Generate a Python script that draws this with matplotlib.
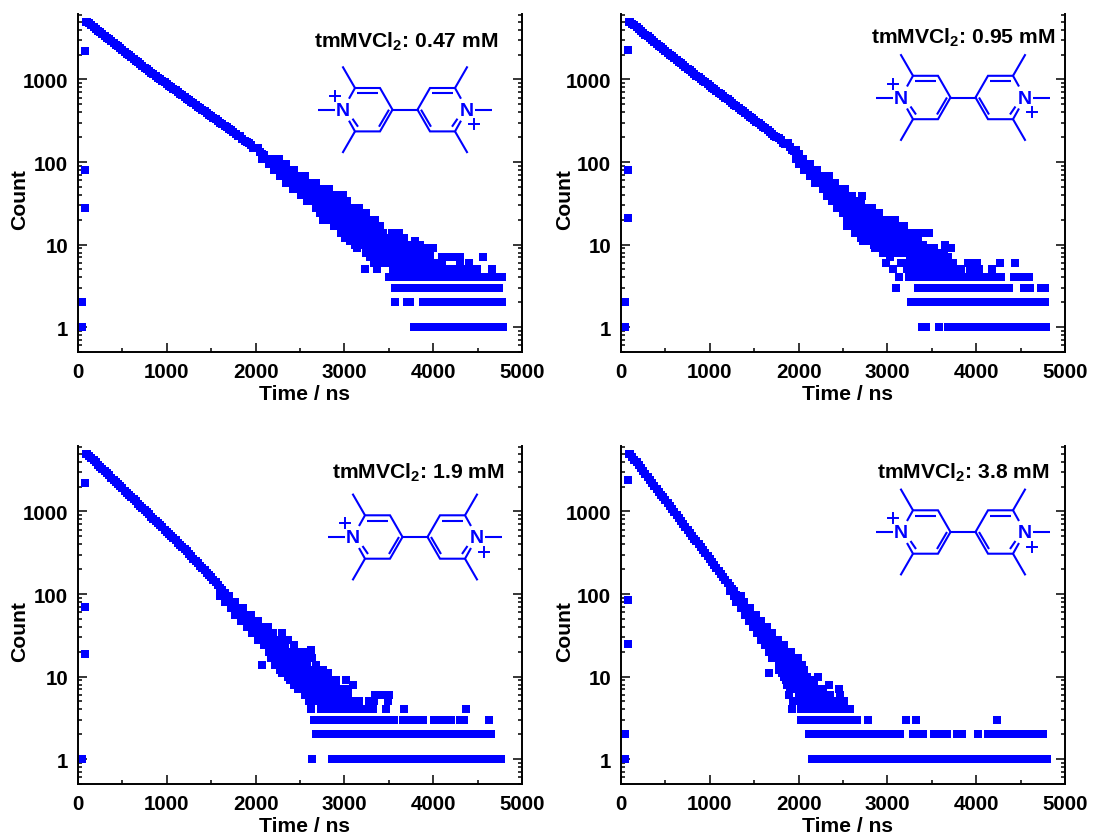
import matplotlib
matplotlib.use("Agg")
import matplotlib.pyplot as plt
from matplotlib.ticker import LogLocator, MultipleLocator, FixedFormatter, FixedLocator, NullFormatter

plt.rcParams["font.family"] = ["Liberation Sans", "DejaVu Sans"]
plt.rcParams["font.weight"] = "bold"
plt.rcParams["mathtext.fontset"] = "custom"
plt.rcParams["mathtext.bf"] = "Liberation Sans:bold"
plt.rcParams["mathtext.rm"] = "Liberation Sans:bold"

BLUE = "#0000ff"
W, H = 1093, 837

# Data

labels = ["tmMVCl$_{\\mathbf{2}}$: 0.47 mM", "tmMVCl$_{\\mathbf{2}}$: 0.95 mM",
          "tmMVCl$_{\\mathbf{2}}$: 1.9 mM", "tmMVCl$_{\\mathbf{2}}$: 3.8 mM"]

main_t = [100, 150, 200, 250, 300, 350, 400, 450, 500, 550, 600, 650, 700, 750, 800, 850, 900, 950, 1000,
          1050, 1100, 1150, 1200, 1250, 1300, 1350, 1400, 1450, 1500, 1550, 1600, 1650, 1700, 1750, 1800,
          1850, 1900, 1950, 2000, 2050, 2100]
mid_t = [125, 175, 225, 275, 325, 375, 425, 475, 525, 575, 625, 675, 725, 775, 825, 875, 925, 975, 1025,
         1075, 1125, 1175, 1225, 1275, 1325, 1375, 1425, 1475, 1525, 1575, 1625, 1675, 1725, 1775, 1825,
         1875, 1925, 1975, 2025, 2075]

p1_main = [5000, 4530, 4100, 3720, 3370, 3050, 2770, 2510, 2270, 2060, 1870, 1690, 1530, 1390, 1260, 1150,
           1050, 960, 880, 805, 735, 670, 615, 560, 515, 470, 430, 392, 360, 328, 300, 275, 250, 228, 208,
           190, 175, 160, 146, 133, 122]
p1_mid = [4760, 4310, 3905, 3540, 3205, 2905, 2635, 2385, 2160, 1960, 1780, 1610, 1460, 1325, 1205, 1100,
          1005, 920, 840, 770, 700, 640, 585, 535, 492, 450, 411, 375, 344, 314, 288, 262, 242, 216, 204,
          178, 172, 148, 146, 124]
p2_main = [5000, 4510, 4070, 3680, 3320, 3000, 2710, 2450, 2210, 2000, 1810, 1640, 1490, 1350, 1225, 1115,
           1015, 920, 835, 760, 690, 630, 572, 520, 472, 430, 391, 355, 323, 294, 267, 243, 221, 201, 183,
           166, 151, 137, 125]
p2_mid = [4750, 4280, 3870, 3500, 3155, 2850, 2575, 2330, 2100, 1905, 1725, 1565, 1420, 1285, 1170, 1065,
          965, 875, 795, 725, 660, 600, 545, 496, 450, 410, 373, 339, 308, 280, 255, 232, 208, 198, 172,
          168, 140, 138]
p3_main = [5000, 4430, 3930, 3480, 3080, 2730, 2420, 2150, 1900, 1680, 1490, 1320, 1170, 1040, 920, 815,
           722, 640, 567, 502, 445, 394, 349, 305, 268, 235, 207, 182, 160, 138, 119, 103]
p3_mid = [4705, 4170, 3700, 3275, 2900, 2570, 2280, 2020, 1785, 1580, 1400, 1245, 1105, 980, 865, 767,
          680, 602, 533, 473, 419, 371, 328, 286, 251, 220, 194, 171, 149, 128, 111]
p4_main = [5000, 4250, 3610, 3060, 2600, 2210, 1880, 1600, 1360, 1150, 980, 830, 705, 600, 510, 433, 368,
           312, 265, 225, 190, 161, 137, 116, 98]
p4_mid = [4610, 3920, 3320, 2820, 2400, 2040, 1735, 1475, 1250, 1060, 900, 765, 650, 553, 470, 399, 339,
          288, 244, 207, 175, 148, 126, 107]

# early points, before the decay starts
p1_early_t = [75, 75, 75, 40, 35, 50, 85]
p1_early_n = [2200, 80, 28, 2, 1, 1, 4900]
p2_early_t = [79, 79, 79, 45, 40, 50, 85]
p2_early_n = [2250, 80, 21, 2, 1, 1, 4900]
p3_early_t = [79, 79, 79, 45, 50, 85]
p3_early_n = [2200, 70, 19, 1, 1, 4900]
p4_early_t = [79, 79, 79, 45, 40, 50, 85]
p4_early_n = [2400, 85, 25, 2, 1, 1, 4900]

# tail: times at which each count is seen
p1_levels = [1, 2, 3, 4, 5, 6, 7, 8, 9, 10, 11, 12, 14, 17, 20, 24, 28, 34, 40, 47, 56, 67, 80, 95, 110]
p1_times = [
    [3780, 3840, 3900, 3960, 4020, 4080, 4140, 4200, 4260, 4320, 4380, 4440, 4500, 4560, 4620, 4680, 4740, 4785],
    [3570, 3700, 3735, 3880, 3940, 4000, 4060, 4120, 4180, 4240, 4300, 4360, 4420, 4480, 4540, 4600, 4660, 4720, 4770],
    [3567, 3630, 3690, 3750, 3810, 3870, 3930, 3990, 4050, 4110, 4170, 4230, 4290, 4350, 4410, 4470, 4530, 4590, 4650, 4700, 4746],
    [3498, 3550, 3610, 3695, 3750, 3810, 3870, 3930, 3990, 4050, 4110, 4170, 4230, 4290, 4350, 4410, 4470, 4530, 4590, 4650, 4710, 4780],
    [3232, 3371, 3550, 3610, 3670, 3730, 3790, 3850, 3910, 3970, 4030, 4090, 4150, 4210, 4270, 4290, 4370, 4420, 4490, 4666],
    [3330, 3390, 3450, 3510, 3570, 3630, 3690, 3750, 3810, 3870, 3930, 3990, 4040, 4100, 4300, 4407],
    [3288, 3350, 3410, 3470, 3530, 3590, 3650, 3710, 3770, 3830, 3890, 3960, 4095, 4130, 4208, 4240, 4306, 4561],
    [3240, 3300, 3360, 3420, 3480, 3540, 3600, 3660, 3720, 3780, 3840, 3900, 3960],
    [3138, 3240, 3300, 3360, 3420, 3480, 3540, 3600, 3660, 3720, 3790, 3945, 4002],
    [3120, 3180, 3240, 3300, 3360, 3420, 3480, 3540, 3600, 3660, 3720, 3795, 3850],
    [3060, 3120, 3180, 3240, 3300, 3360, 3420, 3480, 3540, 3600, 3660, 3795],
    [3010, 3070, 3130, 3190, 3250, 3310, 3370, 3430, 3490, 3550, 3610, 3671],
    [2960, 3020, 3080, 3140, 3200, 3260, 3320, 3380, 3440, 3533, 3619],
    [2880, 2940, 3000, 3060, 3120, 3180, 3240, 3300, 3360, 3400],
    [2763, 2830, 2890, 2950, 3010, 3070, 3130, 3190, 3250, 3345],
    [2720, 2780, 2840, 2900, 2960, 3020, 3080, 3140, 3200, 3240],
    [2680, 2740, 2800, 2860, 2920, 2980, 3040, 3100, 3160],
    [2580, 2640, 2700, 2760, 2820, 2880, 2940, 3000, 3030],
    [2510, 2570, 2630, 2690, 2750, 2810, 2870, 2920, 2988],
    [2420, 2480, 2540, 2600, 2660, 2720, 2780, 2830],
    [2340, 2400, 2460, 2520, 2580, 2640, 2680],
    [2280, 2330, 2390, 2450, 2510, 2560],
    [2210, 2260, 2320, 2380, 2430],
    [2150, 2200, 2250, 2300, 2340],
    [2070, 2120, 2170, 2220, 2260],
]

p2_levels = [1, 2, 3, 4, 5, 6, 7, 8, 9, 10, 11, 12, 14, 17, 20, 24, 28, 34, 39, 47, 56, 67, 80, 95, 110]
p2_times = [
    [3385, 3434, 3584, 3678, 3740, 3800, 3860, 3920, 3980, 4040, 4100, 4160, 4220, 4280, 4340, 4400, 4460, 4520, 4580, 4640, 4700, 4786],
    [3265, 3310, 3397, 3479, 3540, 3600, 3660, 3720, 3780, 3840, 3900, 3960, 4020, 4080, 4140, 4200, 4260, 4320, 4380, 4440, 4500, 4560, 4620, 4680, 4774],
    [3096, 3348, 3410, 3470, 3530, 3590, 3650, 3710, 3770, 3830, 3890, 3950, 4010, 4070, 4130, 4190, 4250, 4310, 4373, 4541, 4605, 4729, 4774],
    [3130, 3246, 3300, 3360, 3420, 3480, 3540, 3600, 3660, 3720, 3780, 3840, 3900, 3960, 4020, 4080, 4140, 4200, 4283, 4429, 4500, 4598],
    [3059, 3216, 3280, 3340, 3400, 3460, 3520, 3580, 3640, 3700, 3760, 3828, 3930, 3985, 4031, 4174],
    [2980, 3156, 3215, 3275, 3335, 3395, 3455, 3515, 3575, 3635, 3695, 3742, 3903, 3967, 4012, 4268, 4436],
    [3030, 3260, 3320, 3380, 3440, 3500, 3560, 3620, 3680],
    [2953, 3010, 3070, 3130, 3190, 3250, 3310, 3370, 3430, 3490, 3550, 3640],
    [2860, 2990, 3050, 3110, 3170, 3230, 3290, 3350, 3410, 3470, 3520, 3720],
    [2850, 2910, 2970, 3030, 3090, 3150, 3210, 3270, 3330, 3400, 3644],
    [2721, 2800, 2860, 2920, 2980, 3040, 3100, 3160, 3220, 3280, 3350],
    [2700, 2760, 2820, 2880, 2940, 3000, 3060, 3120, 3180, 3240, 3300],
    [2640, 2700, 2760, 2820, 2880, 2940, 3000, 3060, 3120, 3180, 3240, 3300, 3348, 3400, 3472],
    [2540, 2600, 2660, 2720, 2780, 2840, 2900, 2960, 3020, 3080, 3140, 3190],
    [2540, 2610, 2670, 2730, 2790, 2850, 2910, 2970, 3030, 3090],
    [2500, 2560, 2620, 2680, 2740, 2800, 2860, 2900],
    [2430, 2490, 2550, 2610, 2670, 2730, 2780, 2830],
    [2380, 2430, 2490, 2550, 2610, 2660, 2700],
    [2320, 2370, 2430, 2490, 2550, 2600, 2717],
    [2270, 2320, 2380, 2430, 2480, 2520],
    [2190, 2240, 2300, 2350, 2410],
    [2130, 2190, 2240, 2290, 2340],
    [2060, 2110, 2160, 2210],
    [2010, 2050, 2090, 2130],
    [1970, 2010, 2050],
]

p3_levels = [1, 2, 3, 4, 5, 6, 7, 8, 9, 10, 11, 12, 14, 17, 20, 21, 24, 28, 34, 40, 47, 56, 67, 80, 95]
p3_times = [
    [2639, 2857, 2932, 2988, 3071, 3130, 3190, 3250, 3310, 3370, 3430, 3490, 3550, 3610, 3670, 3730, 3790, 3850, 3910, 3970, 4030, 4090, 4150, 4210, 4270, 4330, 4390, 4450, 4510, 4570, 4630, 4690, 4764],
    [2677, 2774, 2830, 2890, 2950, 3010, 3070, 3130, 3190, 3250, 3310, 3370, 3430, 3490, 3550, 3610, 3670, 3730, 3790, 3850, 3910, 3970, 4030, 4090, 4150, 4210, 4270, 4330, 4390, 4450, 4510, 4570, 4647],
    [2662, 2720, 2780, 2840, 2900, 2960, 3020, 3080, 3140, 3200, 3260, 3320, 3380, 3440, 3500, 3559, 3656, 3735, 3829, 3889, 4009, 4060, 4114, 4205, 4302, 4347, 4625],
    [2620, 2733, 2790, 2850, 2910, 2970, 3030, 3090, 3150, 3210, 3270, 3326, 3469, 3668, 4370],
    [2602, 2680, 2740, 2800, 2860, 2920, 2973, 3063, 3115, 3165, 3277, 3334, 3487],
    [2560, 2620, 2680, 2740, 2800, 2860, 2920, 2980, 3045, 3341, 3431, 3499],
    [2480, 2540, 2600, 2660, 2720, 2780, 2840, 2900, 2960, 3045],
    [2430, 2490, 2550, 2610, 2670, 2730, 2790, 2850, 2900, 3100],
    [2390, 2450, 2510, 2570, 2630, 2690, 2750, 2810, 2860, 2900, 3015],
    [2369, 2430, 2490, 2550, 2610, 2670, 2730, 2812],
    [2300, 2360, 2420, 2480, 2540, 2600, 2660, 2720, 2812],
    [2275, 2340, 2400, 2460, 2520, 2580, 2640, 2700, 2763],
    [2072, 2220, 2280, 2340, 2400, 2460, 2520, 2580, 2680],
    [2170, 2230, 2290, 2350, 2410, 2470, 2530, 2600, 2632],
    [2150, 2210, 2270, 2330, 2390, 2450, 2530],
    [2620],
    [2090, 2150, 2210, 2270, 2330, 2433],
    [2030, 2090, 2150, 2210, 2270, 2369],
    [1960, 2020, 2080, 2140, 2200, 2294],
    [1900, 1960, 2020, 2080, 2140],
    [1830, 1880, 1930, 1990, 2030],
    [1770, 1820, 1870, 1920, 1950],
    [1720, 1770, 1830, 1860],
    [1660, 1710, 1770],
    [1600, 1650, 1700],
]

p4_levels = [1, 2, 3, 4, 5, 6, 7, 8, 9, 10, 11, 12, 14, 17, 20, 24, 28, 34, 40, 47, 56, 67, 80, 95, 110]
p4_times = [
    [2155, 2215, 2275, 2335, 2395, 2455, 2515, 2575, 2635, 2695, 2755, 2815, 2875, 2935, 2995, 3055, 3115, 3175, 3235, 3295, 3355, 3415, 3475, 3535, 3595, 3655, 3715, 3775, 3835, 3895, 3955, 4015, 4075, 4135, 4195, 4255, 4315, 4375, 4435, 4495, 4555, 4615, 4675, 4735, 4794],
    [2121, 2180, 2240, 2300, 2360, 2420, 2480, 2540, 2600, 2660, 2720, 2780, 2840, 2900, 2960, 3020, 3080, 3142, 3285, 3345, 3405, 3525, 3592, 3671, 3780, 3844, 4017, 4137, 4200, 4260, 4317, 4407, 4460, 4512, 4570, 4630, 4690, 4756],
    [2023, 2080, 2140, 2200, 2260, 2320, 2380, 2440, 2500, 2560, 2620, 2658, 2782, 3210, 3326, 4238],
    [1930, 2027, 2085, 2145, 2205, 2265, 2325, 2385, 2445, 2505, 2575],
    [1941, 2000, 2060, 2120, 2180, 2240, 2300, 2360, 2420, 2507],
    [1892, 2005, 2060, 2110, 2170, 2222, 2280, 2357, 2470],
    [1905, 1960, 2020, 2070, 2130, 2200, 2270, 2451],
    [1870, 1950, 2010, 2060, 2130, 2170, 2339],
    [1860, 1920, 1980, 2040, 2070, 2100, 2170],
    [1840, 1900, 1960, 2020, 2100, 2218],
    [1667, 1810, 1870, 1930, 1990, 2050],
    [1780, 1840, 1900, 1960, 2020, 2061],
    [1780, 1840, 1900, 1960, 2020, 2042],
    [1700, 1760, 1820, 1880, 1950, 1990],
    [1670, 1730, 1790, 1850, 1910],
    [1620, 1680, 1730, 1780, 1830],
    [1580, 1630, 1680, 1730, 1770],
    [1530, 1580, 1630, 1680, 1700],
    [1490, 1540, 1590, 1640],
    [1440, 1490, 1540, 1580],
    [1400, 1450, 1500, 1520],
    [1350, 1400, 1450],
    [1300, 1340, 1380],
    [1270, 1310, 1350],
    [1230, 1270],
]

x_ticks = [0, 1000, 2000, 3000, 4000, 5000]
y_ticks = [1, 10, 100, 1000]
y_ticklabels = ["1", "10", "100", "1000"]


def pixel_axes(left, top, right, bottom):
    return fig.add_axes([left / W, 1 - bottom / H, (right - left) / W, (bottom - top) / H])


def draw_panel(ax, main_n, mid_n, early_t, early_n, levels, times, ylabel_x):
    ax.plot(main_t[:len(main_n)], main_n, "s", ms=MS, mew=0, color=BLUE, clip_on=False)
    ax.plot(mid_t[:len(mid_n)], mid_n, "s", ms=MS, mew=0, color=BLUE, clip_on=False)
    ax.plot(early_t, early_n, "s", ms=MS, mew=0, color=BLUE, clip_on=False)
    for n, ts in zip(levels, times):
        ax.plot(ts, [n] * len(ts), "s", ms=MS, mew=0, color=BLUE, clip_on=False)

    ax.set_xlim(0, 5000)
    ax.set_yscale("log")
    ax.set_ylim(0.5, 6200)
    ax.set_xticks(x_ticks)
    ax.xaxis.set_minor_locator(MultipleLocator(500))
    ax.yaxis.set_major_locator(FixedLocator(y_ticks))
    ax.yaxis.set_major_formatter(FixedFormatter(y_ticklabels))
    ax.yaxis.set_minor_locator(LogLocator(base=10, subs=range(2, 10), numticks=20))
    ax.yaxis.set_minor_formatter(NullFormatter())
    ax.tick_params(which="major", direction="in", length=6.2, width=1.1, labelsize=14.8, pad=7)
    ax.tick_params(which="minor", direction="in", length=3.2, width=1.1)
    ax.tick_params(axis="y", which="both", left=True, right=True)
    ax.tick_params(axis="x", which="both", top=False)
    ax.spines["top"].set_visible(False)
    for s in ["left", "right", "bottom"]:
        ax.spines[s].set_linewidth(1.4)
    ax.set_xlabel("Time / ns", fontsize=15.2, fontweight="bold")
    ax.set_ylabel("Count", fontsize=15.2, fontweight="bold", va="center")
    ax.xaxis.set_label_coords(0.51, -0.095)
    ax.yaxis.set_label_coords(ylabel_x, 0.455)


def draw_molecule(ov, cx, cy):
    # coordinates in picture pixels, relative to the middle of the central bond
    segs = [
        [(-12.5, 0), (-25, 21.7), (-50, 21.7), (-56, 11)],
        [(-12.5, 0), (-25, -21.7), (-50, -21.7), (-56, -11)],
        [(-48, -16.5), (-27, -16.5)],
        [(-16, 0), (-26, 17)],
        [(-52.5, 9), (-47, 17)],
        [(-50, -21.7), (-62.5, -43.3)],
        [(-50, 21.7), (-62.5, 43.3)],
        [(-87, 0), (-70, 0)],
    ]
    for seg in segs:
        for sign in (1, -1):
            xs = [cx + sign * p[0] for p in seg]
            ys = [cy + p[1] for p in seg]
            ov.plot(xs, ys, color=BLUE, lw=1.5, solid_capstyle="butt", solid_joinstyle="miter")
    ov.plot([cx - 12.5, cx + 12.5], [cy, cy], color=BLUE, lw=1.5)
    ov.text(cx - 62, cy + 0.5, "N", color=BLUE, fontsize=14, ha="center", va="center", fontweight="bold")
    ov.text(cx + 62, cy + 0.5, "N", color=BLUE, fontsize=14, ha="center", va="center", fontweight="bold")
    for px, py in [(cx - 70, cy - 14), (cx + 69, cy + 14.5)]:
        ov.plot([px - 5, px + 5], [py, py], color=BLUE, lw=1.4)
        ov.plot([px, px], [py - 5, py + 5], color=BLUE, lw=1.4)


MS = 5.2

fig = plt.figure(figsize=(W / 100, H / 100), dpi=100)

ax1 = pixel_axes(78, 15, 522, 353)
ax2 = pixel_axes(621, 15, 1065, 353)
ax3 = pixel_axes(78, 447, 522, 785)
ax4 = pixel_axes(621, 447, 1065, 785)

draw_panel(ax1, p1_main, p1_mid, p1_early_t, p1_early_n, p1_levels, p1_times, -0.1306)
draw_panel(ax2, p2_main, p2_mid, p2_early_t, p2_early_n, p2_levels, p2_times, -0.126)
draw_panel(ax3, p3_main, p3_mid, p3_early_t, p3_early_n, p3_levels, p3_times, -0.1306)
draw_panel(ax4, p4_main, p4_mid, p4_early_t, p4_early_n, p4_levels, p4_times, -0.126)

# overlay in picture pixels for the drawn molecules and their captions
ov = fig.add_axes([0, 0, 1, 1], facecolor="none")
ov.set_xlim(0, W)
ov.set_ylim(H, 0)
ov.axis("off")

label_x = [498, 1055, 505, 1050]
label_y = [42, 38, 473, 473]
mol_x = [405, 963, 415, 963]
mol_y = [110.7, 98.5, 538, 533]
for lab, lx, ly, mx, my in zip(labels, label_x, label_y, mol_x, mol_y):
    ov.text(lx, ly, lab, fontsize=15.2, fontweight="bold", ha="right", va="center")
    draw_molecule(ov, mx, my)

fig.savefig("out.png", dpi=100)
